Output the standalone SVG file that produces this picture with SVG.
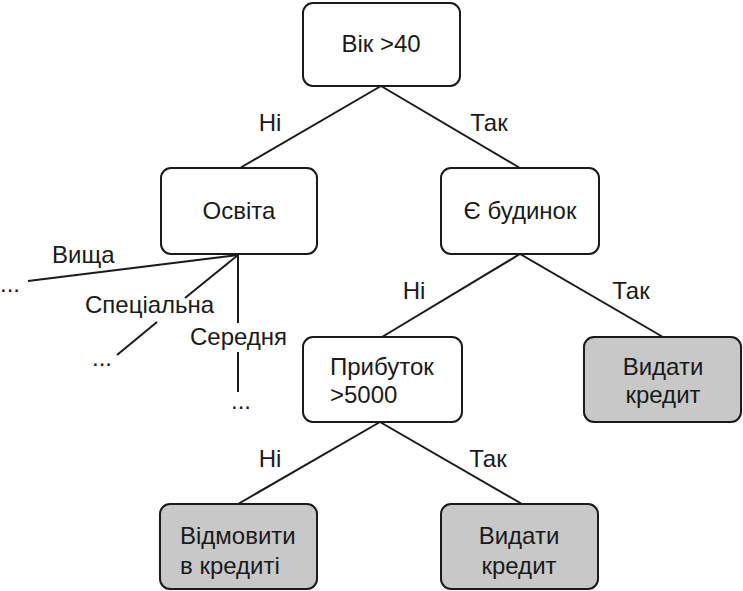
<svg xmlns="http://www.w3.org/2000/svg" width="743" height="591" viewBox="0 0 743 591">
<style>
.box{fill:#fff;stroke:#1a1a1a;stroke-width:2}
.leaf{fill:#c8c8c8;stroke:#1a1a1a;stroke-width:2}
.t{font-family:"Liberation Sans",Arial,sans-serif;font-size:24px;fill:#1a1a1a}
.c{text-anchor:middle}
.ln{stroke:#1a1a1a;stroke-width:2;fill:none}
</style>
<rect width="743" height="591" fill="#fff"/>
<g id="connectors">
<line class="ln" x1="381" y1="86" x2="240" y2="168"/>
<line class="ln" x1="381" y1="86" x2="520" y2="168"/>
<line class="ln" x1="520" y1="254" x2="382" y2="337"/>
<line class="ln" x1="520" y1="254" x2="663" y2="337"/>
<line class="ln" x1="380" y1="422" x2="238" y2="504"/>
<line class="ln" x1="380" y1="422" x2="522" y2="504"/>
<line class="ln" x1="238" y1="255" x2="28" y2="281"/>
<line class="ln" x1="238" y1="255" x2="185" y2="298"/>
<line class="ln" x1="157" y1="322" x2="117" y2="355"/>
<line class="ln" x1="238" y1="255" x2="238" y2="323"/>
<line class="ln" x1="238" y1="352" x2="238" y2="392"/>
<text class="t c" x="270" y="131">Ні</text>
<text class="t c" x="489" y="131">Так</text>
<text class="t c" x="414" y="299">Ні</text>
<text class="t c" x="631" y="299">Так</text>
<text class="t c" x="270" y="467">Ні</text>
<text class="t c" x="488" y="467">Так</text>
<text class="t" x="52" y="263">Вища</text>
<text class="t" x="85" y="313">Спеціальна</text>
<text class="t" x="190" y="345">Середня</text>
<text class="t" x="0" y="292">...</text>
<text class="t" x="92" y="366">...</text>
<text class="t" x="231" y="409">...</text>
</g>
<g id="n-age">
<rect class="box" x="303" y="3" width="157" height="83" rx="10"/>
<text class="t c" x="381" y="52">Вік &gt;40</text>
</g>
<g id="n-edu">
<rect class="box" x="161" y="168" width="156" height="86" rx="10"/>
<text class="t c" x="239" y="219">Освіта</text>
</g>
<g id="n-house">
<rect class="box" x="441" y="168" width="158" height="86" rx="10"/>
<text class="t c" x="520" y="219">Є будинок</text>
</g>
<g id="n-income">
<rect class="box" x="303" y="337" width="159" height="85" rx="10"/>
<text class="t" x="330" y="375">Прибуток</text>
<text class="t" x="330" y="403">&gt;5000</text>
</g>
<g id="n-give1">
<rect class="leaf" x="584" y="337" width="157" height="85" rx="10"/>
<text class="t c" x="663" y="375">Видати</text>
<text class="t c" x="663" y="403">кредит</text>
</g>
<g id="n-refuse">
<rect class="leaf" x="160" y="504" width="157" height="85" rx="10"/>
<text class="t" x="180" y="544">Відмовити</text>
<text class="t" x="180" y="574">в кредиті</text>
</g>
<g id="n-give2">
<rect class="leaf" x="441" y="504" width="157" height="85" rx="10"/>
<text class="t c" x="519" y="544">Видати</text>
<text class="t c" x="519" y="574">кредит</text>
</g>
</svg>
